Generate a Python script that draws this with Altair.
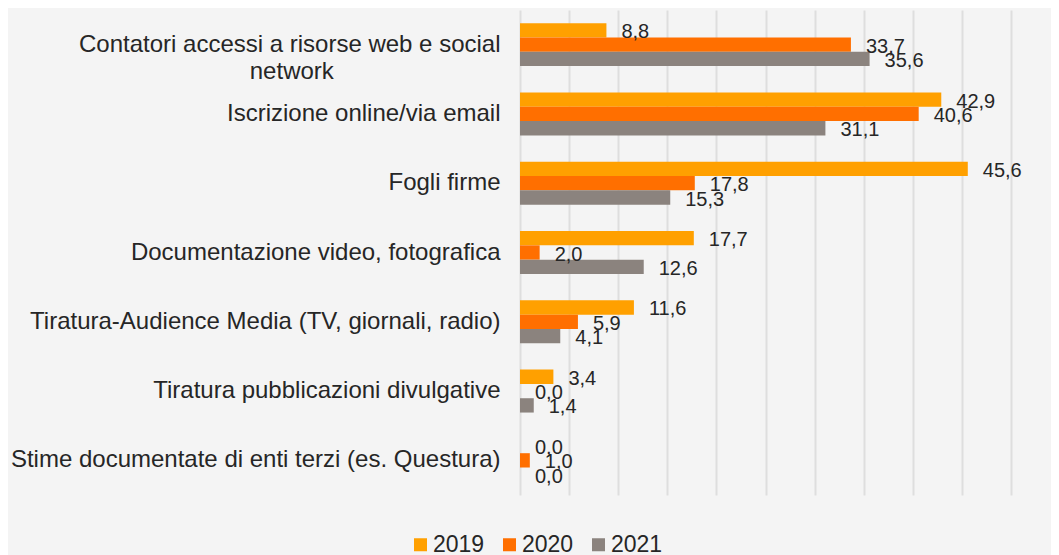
import altair as alt
import pandas as pd

categories = [
    "Contatori accessi a risorse web e social network",
    "Iscrizione online/via email",
    "Fogli firme",
    "Documentazione video, fotografica",
    "Tiratura-Audience Media (TV, giornali, radio)",
    "Tiratura pubblicazioni divulgative",
    "Stime documentate di enti terzi (es. Questura)",
]
years = ["2019", "2020", "2021"]
v2019 = [8.8, 42.9, 45.6, 17.7, 11.6, 3.4, 0.0]
v2020 = [33.7, 40.6, 17.8, 2.0, 5.9, 0.0, 1.0]
v2021 = [35.6, 31.1, 15.3, 12.6, 4.1, 1.4, 0.0]
colors = ["#FFA000", "#FF6F00", "#8B837E"]
grid_values = [0, 5, 10, 15, 20, 25, 30, 35, 40, 45, 50]

rows = []
for i, c in enumerate(categories):
    for y, vals in zip(years, [v2019, v2020, v2021]):
        rows.append({"cat": c, "year": y, "value": vals[i]})
df = pd.DataFrame(rows)

line1 = "Contatori accessi a risorse web e social"
line2 = "network" + "\u00a0" * 25 + "\u2060"
label_expr = (
    f"datum.value == '{categories[0]}' ? ['{line1}', '{line2}'] : datum.value"
)

FONT = "Liberation Sans"
TXT = "#262626"

base = alt.Chart(df).encode(
    y=alt.Y(
        "cat:N",
        sort=categories,
        scale=alt.Scale(paddingInner=0.38, paddingOuter=0.19),
        axis=alt.Axis(
            title=None,
            labelFontSize=24,
            labelFont=FONT,
            labelColor=TXT,
            labelPadding=20,
            labelLimit=0,
            ticks=False,
            domain=False,
            grid=False,
            labelExpr=label_expr,
            labelLineHeight=27,
        ),
    ),
    yOffset=alt.YOffset(
        "year:N", sort=years, scale=alt.Scale(paddingInner=0, paddingOuter=0)
    ),
)

bars = base.mark_bar().encode(
    x=alt.X(
        "value:Q",
        scale=alt.Scale(domain=[0, 50], nice=False),
        axis=alt.Axis(
            title=None,
            values=grid_values,
            labels=False,
            ticks=False,
            domain=False,
            grid=True,
            gridColor="#dedede",
            gridWidth=2,
        ),
    ),
    color=alt.Color(
        "year:N",
        scale=alt.Scale(domain=years, range=colors),
        legend=alt.Legend(
            title=None,
            orient="none",
            legendX=-111,
            legendY=523,
            direction="horizontal",
            symbolType="square",
            symbolSize=169,
            symbolStrokeWidth=0,
            labelFontSize=23,
            labelFont=FONT,
            labelColor=TXT,
            labelOffset=1,
            columnPadding=13,
            padding=0,
        ),
    ),
)

text = (
    base.mark_text(
        align="left",
        baseline="middle",
        dx=15,
        dy=2,
        fontSize=20,
        font=FONT,
        color=TXT,
    )
    .encode(x="value:Q", text="label:N")
    .transform_calculate(label="replace(format(datum.value, '.1f'), '.', ',')")
)

chart = (
    alt.layer(bars, text)
    .properties(
        width=491,
        height=485,
        autosize=alt.AutoSizeParams(type="none"),
        padding={"left": 512, "top": 2, "right": 40, "bottom": 60},
        background="#f4f4f4",
    )
    .configure_view(stroke=None)
)

chart.save("out.html", embed_options={"renderer": "svg", "actions": False})
